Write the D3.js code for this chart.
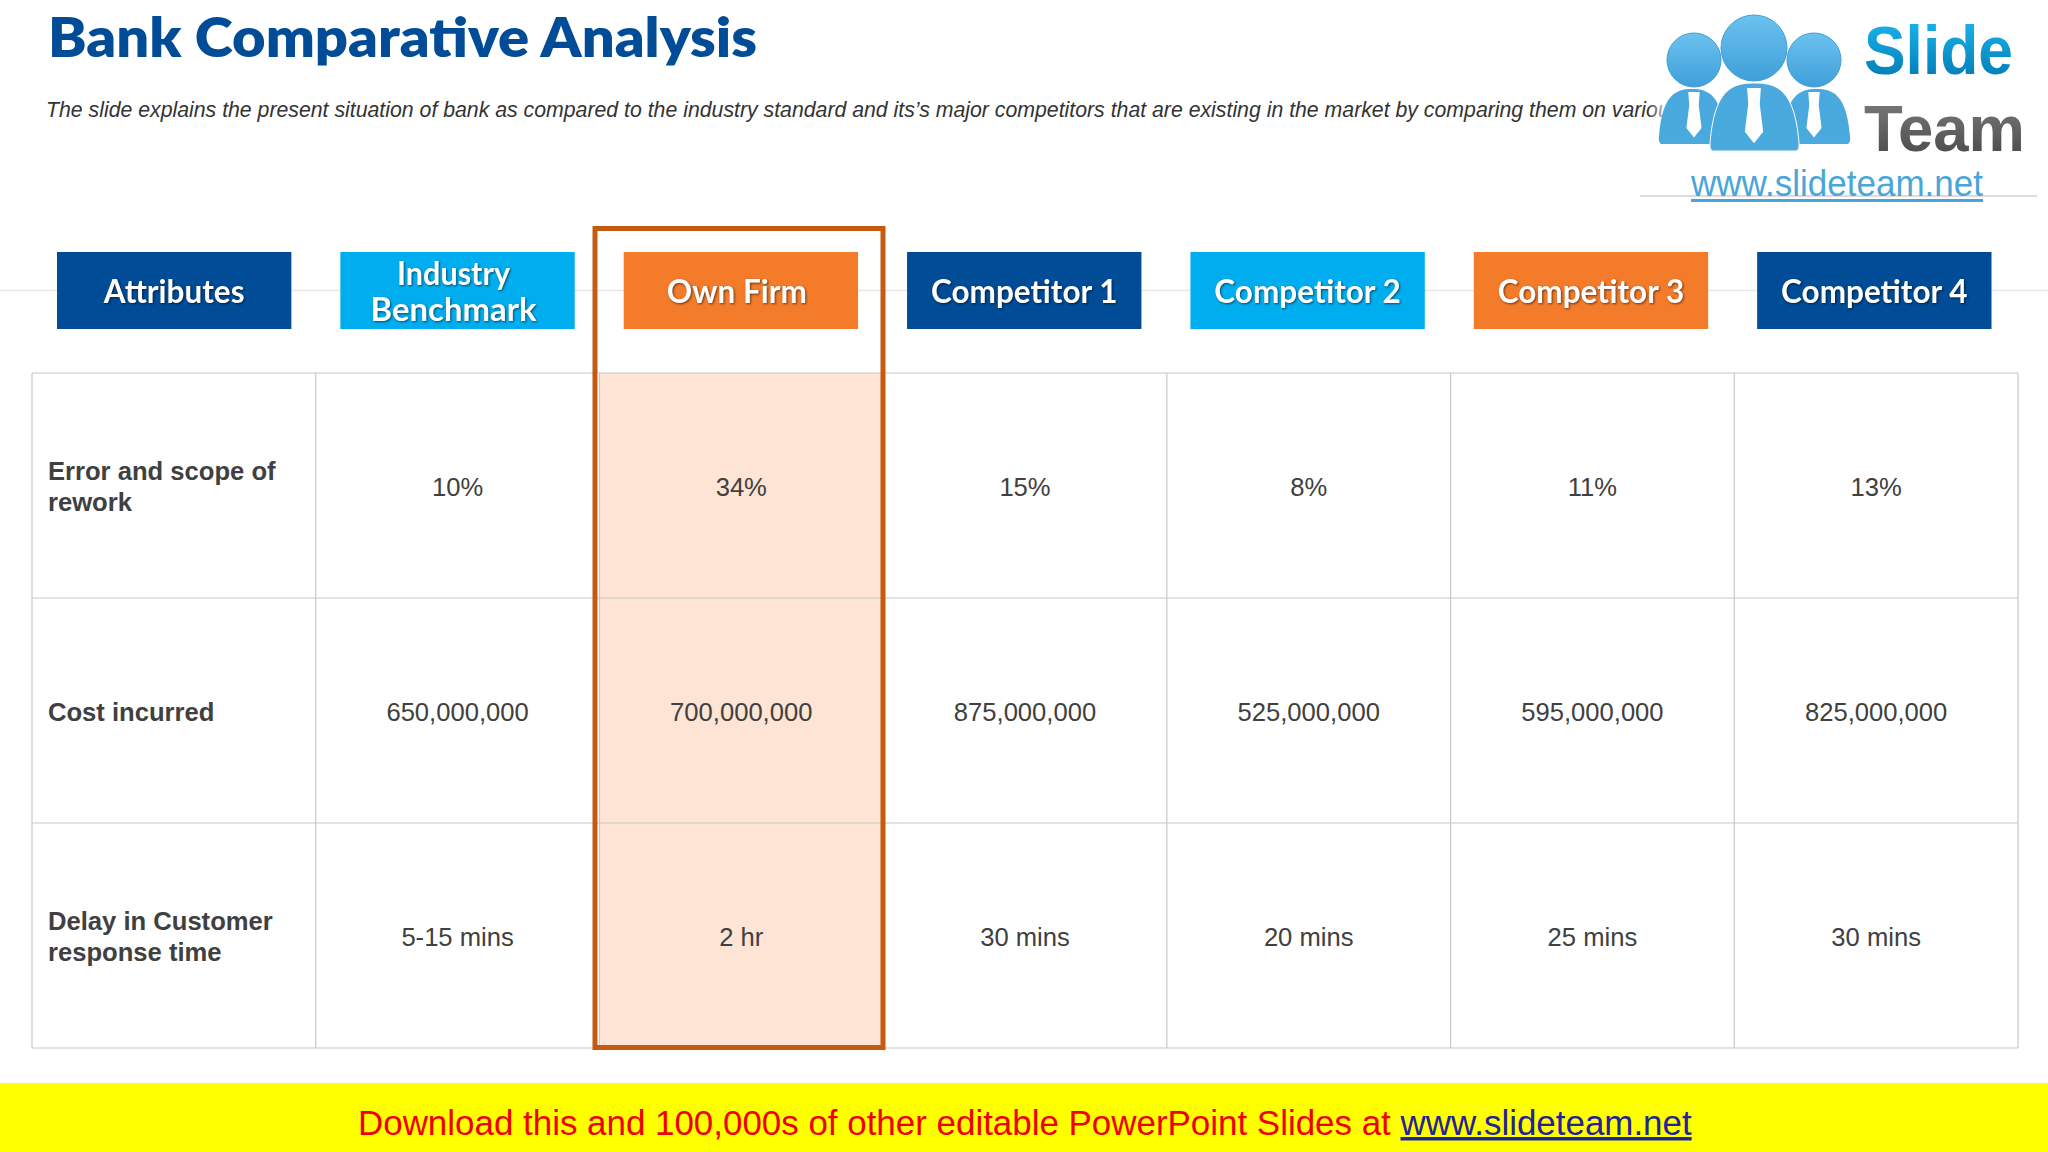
<!DOCTYPE html>
<html>
<head>
<meta charset="utf-8">
<script src="https://cdn.jsdelivr.net/npm/d3@7/dist/d3.min.js"></script>
<style>
html, body { margin: 0; padding: 0; background: #fff; }
svg { display: block; }
</style>
</head>
<body>
<svg id="slide" width="2048" height="1152"></svg>
<script>
const columns = ['Attributes', 'Industry Benchmark', 'Own Firm', 'Competitor 1', 'Competitor 2', 'Competitor 3', 'Competitor 4']
const rowNames = ['Error and scope of rework', 'Cost incurred', 'Delay in Customer response time']
const errorRework = ['10%', '34%', '15%', '8%', '11%', '13%']
const costIncurred = ['650,000,000', '700,000,000', '875,000,000', '525,000,000', '595,000,000', '825,000,000']
const delayResponse = ['5-15 mins', '2 hr', '30 mins', '20 mins', '25 mins', '30 mins']
const rowValues = [errorRework, costIncurred, delayResponse]
const headerColors = ['#004c97', '#00aeef', '#f47b2a', '#004c97', '#00aeef', '#f47b2a', '#004c97']

const titleText = 'Bank Comparative Analysis'
const subtitleText = 'The slide explains the present situation of bank as compared to the industry standard and its\u2019s major competitors that are existing in the market by comparing them on various'
const footerText = 'Download this and 100,000s of other editable PowerPoint Slides at '
const footerLink = 'www.slideteam.net'

const sans = '"Liberation Sans", Arial, sans-serif'
const svg = d3.select('#slide')

const x = d3.scaleBand().domain(columns).range([32, 2018])
const headerX = d3.scaleBand().domain(columns).range([32.5, 2016])
const y = d3.scaleBand().domain(rowNames).range([373, 1048])

const defs = svg.append('defs')
function vGrad(id, top, bottom) {
  const g = defs.append('linearGradient').attr('id', id).attr('x1', 0).attr('x2', 0).attr('y1', 0).attr('y2', 1)
  g.append('stop').attr('offset', '0%').attr('stop-color', top)
  g.append('stop').attr('offset', '100%').attr('stop-color', bottom)
}
vGrad('slideGrad', '#1cbcf2', '#0073ae')
vGrad('teamGrad', '#7f7f7f', '#454545')
vGrad('headGrad', '#6cc2ee', '#3f9fd9')
vGrad('bodyGrad', '#4aa8dd', '#48aade')

// faint rule behind the header row
svg.append('line').attr('x1', 0).attr('x2', 2048).attr('y1', 290.5).attr('y2', 290.5)
  .attr('stroke', '#e6e6e6').attr('stroke-width', 1.5)

svg.append('text').text(titleText)
  .attr('x', 48).attr('y', 57)
  .attr('textLength', 709).attr('lengthAdjust', 'spacingAndGlyphs')
  .attr('font-family', 'Lato, sans-serif').attr('font-weight', 800).attr('font-size', 54)
  .attr('fill', '#004c97')

svg.append('text').text(subtitleText)
  .attr('x', 46).attr('y', 117)
  .attr('font-family', sans).attr('font-style', 'italic').attr('font-size', 21.27)
  .attr('fill', '#333')

// own firm highlight fill
svg.append('rect')
  .attr('x', x('Own Firm')).attr('y', y.range()[0])
  .attr('width', x.bandwidth()).attr('height', y.range()[1] - y.range()[0])
  .attr('fill', '#fde4d4')

// table grid
const grid = svg.append('g').attr('stroke', '#c8c8c8').attr('stroke-width', 1.2).attr('fill', 'none')
grid.selectAll('line.v').data(columns.concat(['end'])).join('line')
  .attr('x1', (d, i) => i < columns.length ? x(d) : x.range()[1])
  .attr('x2', (d, i) => i < columns.length ? x(d) : x.range()[1])
  .attr('y1', y.range()[0]).attr('y2', y.range()[1])
grid.selectAll('line.h').data(rowNames.concat(['end'])).join('line')
  .attr('class', 'h')
  .attr('x1', x.range()[0]).attr('x2', x.range()[1])
  .attr('y1', (d, i) => i < rowNames.length ? y(d) : y.range()[1])
  .attr('y2', (d, i) => i < rowNames.length ? y(d) : y.range()[1])

// header boxes
const pad = 24.5
const head = svg.selectAll('g.head').data(columns).join('g').attr('class', 'head')
head.append('rect')
  .attr('x', d => headerX(d) + pad).attr('y', 252)
  .attr('width', headerX.bandwidth() - pad * 2).attr('height', 77)
  .attr('fill', (d, i) => headerColors[i])
const wrappedHeader = { 'Industry Benchmark': [['Industry', 113], ['Benchmark', 166]] }
head.each(function (d) {
  const lines = wrappedHeader[d] || [[d, null]]
  const cx = headerX(d) + headerX.bandwidth() / 2 + (d === 'Industry Benchmark' || d === 'Own Firm' ? -4 : 0)
  const first = lines.length > 1 ? 285 : 303
  d3.select(this).selectAll('text').data(lines).join('text')
    .text(t => t[0])
    .attr('x', cx).attr('y', (t, i) => first + i * 36)
    .attr('text-anchor', 'middle')
    .attr('textLength', t => t[1])
    .attr('lengthAdjust', t => t[1] ? 'spacingAndGlyphs' : null)
    .attr('font-family', 'Lato, sans-serif').attr('font-weight', 700).attr('font-size', 31.5)
    .attr('fill', '#fff')
    .style('filter', 'drop-shadow(1px 1px 1px rgba(0,0,0,0.55))')
})

// row labels
const wrapped = { 'Error and scope of rework': ['Error and scope of', 'rework'], 'Delay in Customer response time': ['Delay in Customer', 'response time'] }
svg.selectAll('g.rowlabel').data(rowNames).join('g').attr('class', 'rowlabel').each(function (d) {
  const lines = wrapped[d] || [d]
  const mid = y(d) + y.bandwidth() / 2
  d3.select(this).selectAll('text').data(lines).join('text')
    .text(t => t)
    .attr('x', 48)
    .attr('y', (t, i) => mid + 10 + (i - (lines.length - 1) / 2) * 31)
    .attr('font-family', sans).attr('font-weight', 700).attr('font-size', 25.6)
    .attr('fill', '#404040')
})

// value cells
rowNames.forEach((r, ri) => {
  svg.append('g').selectAll('text').data(rowValues[ri]).join('text')
    .text(d => d)
    .attr('x', (d, i) => x(columns[i + 1]) + x.bandwidth() / 2)
    .attr('y', y(r) + y.bandwidth() / 2 + 10)
    .attr('text-anchor', 'middle')
    .attr('font-family', sans).attr('font-size', 25.6)
    .attr('fill', '#404040')
})

// own firm outline
svg.append('rect')
  .attr('x', 595).attr('y', 228.5).attr('width', 288).attr('height', 819)
  .attr('fill', 'none').attr('stroke', '#c55a11').attr('stroke-width', 5)

// footer
svg.append('rect').attr('x', 0).attr('y', 1083).attr('width', 2048).attr('height', 69).attr('fill', '#ffff00')
const foot = svg.append('text').attr('x', 358).attr('y', 1135)
  .attr('font-family', sans).attr('font-size', 34.93)
foot.append('tspan').text(footerText).attr('fill', '#f00000')
foot.append('tspan').text(footerLink).attr('fill', '#22229a').attr('text-decoration', 'underline')

// logo
const logo = svg.append('g')
logo.append('rect').attr('x', 1672).attr('y', 0).attr('width', 376).attr('height', 196).attr('fill', '#fff')
const fade = defs.append('linearGradient').attr('id', 'fadeGrad')
fade.append('stop').attr('offset', '0%').attr('stop-color', '#fff').attr('stop-opacity', 0)
fade.append('stop').attr('offset', '100%').attr('stop-color', '#fff').attr('stop-opacity', 1)
logo.append('rect').attr('x', 1648).attr('y', 95).attr('width', 24).attr('height', 30).attr('fill', 'url(#fadeGrad)')
logo.append('line').attr('x1', 1640).attr('x2', 2037).attr('y1', 196).attr('y2', 196).attr('stroke', '#d0d0d0').attr('stroke-width', 1.5)

const body = (x0, x1, top, bottom) => {
  const w = x1 - x0
  return `M${x0 + 2},${bottom} Q${x0 - 1},${bottom - 2} ${x0},${bottom - 8} C${x0 + w * 0.05},${top + 6} ${x0 + w * 0.25},${top} ${x0 + w * 0.5},${top} C${x0 + w * 0.75},${top} ${x1 - w * 0.05},${top + 6} ${x1},${bottom - 8} Q${x1 + 1},${bottom - 2} ${x1 - 2},${bottom} Z`
}
const tie = (cx, top, s) => `M${cx - 6 * s},${top} H${cx + 6 * s} L${cx + 5 * s},${top + 14 * s} L${cx + 8 * s},${top + 38 * s} L${cx},${top + 48 * s} L${cx - 8 * s},${top + 38 * s} L${cx - 5 * s},${top + 14 * s} Z`

logo.append('circle').attr('cx', 1694).attr('cy', 60).attr('r', 27).attr('fill', 'url(#headGrad)').attr('stroke', '#3f9fd9')
logo.append('circle').attr('cx', 1814).attr('cy', 60).attr('r', 27).attr('fill', 'url(#headGrad)').attr('stroke', '#3f9fd9')
logo.append('path').attr('d', body(1659, 1725, 89, 144)).attr('fill', 'url(#bodyGrad)')
logo.append('path').attr('d', body(1783, 1850, 89, 144)).attr('fill', 'url(#bodyGrad)')
logo.append('path').attr('d', tie(1694, 92, 0.95)).attr('fill', '#fff')
logo.append('path').attr('d', tie(1814, 92, 0.95)).attr('fill', '#fff')
logo.append('path').attr('d', body(1710, 1799, 83, 151)).attr('fill', 'url(#bodyGrad)').attr('stroke', '#fff').attr('stroke-width', 1)
logo.append('path').attr('d', tie(1754, 88, 1.15)).attr('fill', '#fff')
logo.append('circle').attr('cx', 1754).attr('cy', 48).attr('r', 33).attr('fill', 'url(#headGrad)').attr('stroke', '#3f9fd9')

logo.append('text').text('Slide').attr('x', 1864).attr('y', 74)
  .attr('textLength', 149).attr('lengthAdjust', 'spacingAndGlyphs')
  .attr('font-family', sans).attr('font-weight', 700).attr('font-size', 68)
  .attr('fill', 'url(#slideGrad)')
logo.append('text').text('Team').attr('x', 1864).attr('y', 151)
  .attr('textLength', 161).attr('lengthAdjust', 'spacingAndGlyphs')
  .attr('font-family', sans).attr('font-weight', 700).attr('font-size', 64)
  .attr('fill', 'url(#teamGrad)')
logo.append('text').text(footerLink).attr('x', 1691).attr('y', 196)
  .attr('textLength', 292).attr('lengthAdjust', 'spacingAndGlyphs')
  .attr('font-family', sans).attr('font-size', 36)
  .attr('fill', '#4aa5d8')
logo.append('line').attr('x1', 1691).attr('x2', 1983).attr('y1', 200.5).attr('y2', 200.5).attr('stroke', '#4aa5d8').attr('stroke-width', 3)
</script>
</body>
</html>
